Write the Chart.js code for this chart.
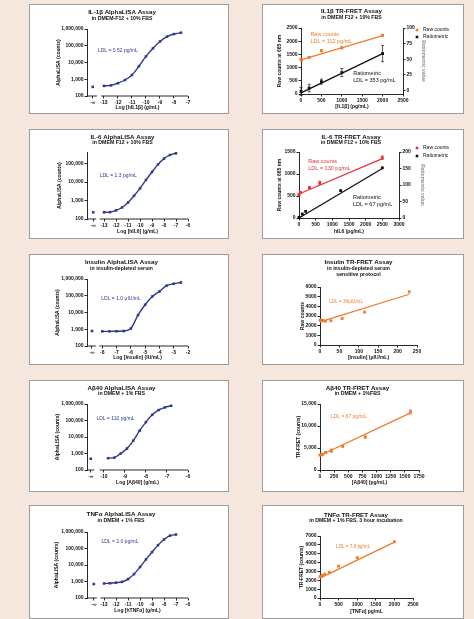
<!DOCTYPE html>
<html lang="en">
<head>
<meta charset="UTF-8">
<title>AlphaLISA and TR-FRET assay comparison</title>
<script src="https://cdn.jsdelivr.net/npm/chart.js"></script>
<style>
  body { margin: 0; width: 474px; height: 619px; background: #f6e7de; position: relative; overflow: hidden; }
  .box { position: absolute; box-sizing: border-box; background: #fff; border: 1px solid #9d9d9d; }
  .box canvas { display: block; }
</style>
</head>
<body>
<script>
// ---- tick labels ----
const logTicks = [100, 1000, 10000, 100000, 1000000];

// ---- IL-1β AlphaLISA ----
const il1bAlphaLog   = [-13, -12.5, -12, -11.5, -11, -10.5, -10, -9.5, -9, -8.5, -8, -7.5];
const il1bAlphaCount = [400, 430, 580, 900, 1800, 6000, 23000, 70000, 180000, 350000, 500000, 600000];
const il1bAlphaBlank = 350;
const il1bAlphaTicks = [-13, -12, -11, -10, -9, -8, -7];

// ---- IL-6 AlphaLISA ----
const il6AlphaLog   = [-13, -12.5, -12, -11.5, -11, -10.5, -10, -9.5, -9, -8.5, -8, -7.5, -7];
const il6AlphaCount = [230, 235, 290, 420, 780, 1800, 4500, 13000, 35000, 90000, 185000, 290000, 360000];
const il6AlphaBlank = 230;
const il6AlphaTicks = [-13, -12, -11, -10, -9, -8, -7, -6];

// ---- Insulin AlphaLISA ----
const insAlphaLog   = [-8, -7.5, -7, -6.5, -6, -5.5, -5, -4.5, -4, -3.5, -3, -2.5];
const insAlphaCount = [750, 750, 760, 780, 1100, 7000, 29000, 90000, 180000, 400000, 520000, 620000];
const insAlphaBlank = 780;
const insAlphaTicks = [-8, -7, -6, -5, -4, -3, -2];

// ---- Aβ40 AlphaLISA ----
const ab40AlphaLog   = [-9.8, -9.5, -9.2, -8.9, -8.6, -8.3, -8.0, -7.7, -7.4, -7.1, -6.8];
const ab40AlphaCount = [520, 560, 1000, 2000, 6000, 24000, 80000, 220000, 430000, 620000, 780000];
const ab40AlphaBlank = 480;
const ab40AlphaTicks = [-10, -9, -8, -7, -6];

// ---- TNFα AlphaLISA ----
const tnfAlphaLog   = [-13, -12.5, -12, -11.5, -11, -10.5, -10, -9.5, -9, -8.5, -8, -7.5, -7];
const tnfAlphaCount = [760, 780, 850, 950, 1400, 2800, 7500, 22000, 60000, 160000, 350000, 600000, 700000];
const tnfAlphaBlank = 700;
const tnfAlphaTicks = [-13, -12, -11, -10, -9, -8, -7, -6];

// ---- IL1β TR-FRET ----
const il1bFretRawX     = [0, 12, 200, 500, 1000, 2000];
const il1bFretRaw      = [1310, 1290, 1390, 1640, 1750, 2225];
const il1bFretRawErr   = [30, 30, 30, 40, 40, 30];
const il1bFretRatioX   = [0, 200, 500, 1000, 2000];
const il1bFretRatio    = [-1.5, 3.7, 14, 28.5, 59];
const il1bFretRatioErr = [6.5, 6, 4, 6.5, 13];
const il1bFitX         = [0, 2000];
const il1bFitRaw       = [1290, 2210];
const il1bFitRatio     = [-4, 59];
const il1bFretXTicks   = [0, 500, 1000, 1500, 2000, 2500];
const il1bFretYTicks   = [0, 500, 1000, 1500, 2000, 2500];
const il1bFretY2Ticks  = [0, 25, 50, 75, 100];

// ---- IL-6 TR-FRET ----
const il6FretRawX    = [0, 40, 312, 625, 2500];
const il6FretRaw     = [530, 580, 690, 800, 1370];
const il6FretRawErr  = [20, 20, 20, 40, 40];
const il6FretRatioX  = [0, 100, 200, 1250, 2500];
const il6FretRatio   = [2, 12, 20, 83, 152];
const il6FitX        = [0, 2500];
const il6FitRaw      = [545, 1350];
const il6FitRatio    = [0, 150];
const il6FretXTicks  = [0, 500, 1000, 1500, 2000, 2500, 3000];
const il6FretYTicks  = [0, 500, 1000, 1500];
const il6FretY2Ticks = [0, 50, 100, 150, 200];

// ---- Insulin TR-FRET ----
const insFretConc   = [0, 1.8, 3.6, 7.2, 14, 28, 57, 115, 230];
const insFretRaw    = [2550, 2600, 2500, 2550, 2470, 2500, 2740, 3400, 5500];
const insFitX       = [0, 230];
const insFitRaw     = [2400, 5250];
const insFretXTicks = [0, 50, 100, 150, 200, 250];
const insFretYTicks = [0, 1000, 2000, 3000, 4000, 5000, 6000];

// ---- Aβ40 TR-FRET ----
const ab40FretConc   = [0, 25, 50, 100, 200, 400, 800, 1600];
const ab40FretSig    = [3400, 3450, 3600, 4000, 4400, 5400, 7500, 13200];
const ab40FretErr    = [150, 150, 150, 200, 400, 200, 300, 500];
const ab40FitX       = [0, 1600];
const ab40FitSig     = [3300, 13000];
const ab40FretXTicks = [0, 250, 500, 750, 1000, 1250, 1500, 1750];
const ab40FretYTicks = [0, 5000, 10000, 15000];

// ---- TNFα TR-FRET ----
const tnfFretConc   = [0, 31, 62, 125, 250, 500, 1000, 2000];
const tnfFretSig    = [2400, 2450, 2550, 2700, 2900, 3600, 4550, 6350];
const tnfFitX       = [0, 2000];
const tnfFitSig     = [2250, 6300];
const tnfFretXTicks = [0, 500, 1000, 1500, 2000, 2500];
const tnfFretYTicks = [0, 1000, 2000, 3000, 4000, 5000, 6000, 7000];

// ---- styling ----
const INK = '#111';
const BLUE = '#2d3a8c';
const ORANGE = '#ef7b2c';
const RED = '#e2343d';
const GREY = '#8e8e8e';
const FONT = '"Liberation Sans", Arial, Helvetica, sans-serif';
const TITLE_SIZE = 6.2;

Chart.defaults.font.family = FONT;
Chart.defaults.color = INK;

const plain = v => String(v);
const commas = v => Number(v).toLocaleString('en-US');

function addCanvas(box) {
  const [left, top, w, h] = box;
  const div = document.createElement('div');
  div.className = 'box';
  div.style.cssText = `left:${left}px;top:${top}px;width:${w}px;height:${h}px;`;
  const cv = document.createElement('canvas');
  cv.width = w - 2;
  cv.height = h - 2;
  cv.style.width = (w - 2) + 'px';
  cv.style.height = (h - 2) + 'px';
  div.appendChild(cv);
  document.body.appendChild(div);
  return cv;
}

function axis(o) {
  return {
    type: o.type || 'linear',
    position: o.position,
    min: o.min,
    max: o.max,
    border: { display: o.border !== false, color: INK, width: 0.9 },
    grid: { display: true, drawOnChartArea: false, drawTicks: true, tickLength: 2.5, color: INK, lineWidth: 0.9 },
    ticks: { font: { size: 5, weight: 'bold' }, color: INK, padding: 1, maxRotation: 0, autoSkip: false, callback: o.format },
    title: { display: !!o.title, text: o.title, color: o.titleColor || INK, font: { size: 5, weight: 'bold' }, padding: o.titlePad || 0 },
    afterBuildTicks: s => { s.ticks = o.ticks.map(v => ({ value: v })); },
    afterFit: s => {
      if (o.width != null) s.width = o.width;
      if (o.height != null) s.height = o.height;
    },
  };
}

function titleOpts(p) {
  return { display: true, text: p.title, color: INK, font: { size: TITLE_SIZE, weight: 'bold', lineHeight: 1 },
           padding: { top: p.titleY - TITLE_SIZE / 2, bottom: 0 } };
}

function subOpts(p) {
  const lh = 5.2;
  const top = Math.max(0, p.subY - p.titleY - TITLE_SIZE / 2 - lh / 2);
  const used = p.titleY + TITLE_SIZE / 2 + top + p.sub.length * lh;
  return { display: true, text: p.sub, color: INK, font: { size: lh, weight: 'bold', lineHeight: 1 },
           padding: { top, bottom: Math.max(0, p.area[1] - used) } };
}

// x axis drawn in two pieces, gap after the "-∞" tick
function brokenAxis(gap) {
  return {
    id: 'brokenAxis',
    afterDraw(chart) {
      const { ctx, chartArea, scales } = chart;
      const y = chartArea.bottom;
      ctx.save();
      ctx.strokeStyle = INK;
      ctx.lineWidth = 0.9;
      ctx.beginPath();
      ctx.moveTo(chartArea.left, y);
      ctx.lineTo(scales.x.getPixelForValue(gap[0]), y);
      ctx.moveTo(scales.x.getPixelForValue(gap[1]), y);
      ctx.lineTo(chartArea.right, y);
      ctx.stroke();
      ctx.restore();
    }
  };
}

// free text placed in data coordinates
function notes(items) {
  return {
    id: 'notes',
    afterDatasetsDraw(chart) {
      const ctx = chart.ctx;
      items.forEach(n => {
        const px = chart.scales.x.getPixelForValue(n.x);
        const py = chart.scales[n.axis || 'y'].getPixelForValue(n.y);
        ctx.save();
        ctx.fillStyle = n.color;
        ctx.font = `${n.size}px ${FONT}`;
        ctx.textBaseline = 'middle';
        n.lines.forEach((t, i) => ctx.fillText(t, px, py + i * n.size * 1.2));
        ctx.restore();
      });
    }
  };
}

const errorBars = {
  id: 'errorBars',
  afterDatasetsDraw(chart) {
    const ctx = chart.ctx;
    chart.data.datasets.forEach((ds, i) => {
      if (!ds.errors) return;
      const meta = chart.getDatasetMeta(i);
      const ys = chart.scales[meta.yAxisID];
      ctx.save();
      ctx.strokeStyle = ds.borderColor;
      ctx.lineWidth = 0.7;
      meta.data.forEach((pt, j) => {
        const e = ds.errors[j];
        if (!e) return;
        const v = ds.data[j].y;
        const y1 = ys.getPixelForValue(v - e), y2 = ys.getPixelForValue(v + e);
        ctx.beginPath();
        ctx.moveTo(pt.x, y1); ctx.lineTo(pt.x, y2);
        ctx.moveTo(pt.x - 1.5, y1); ctx.lineTo(pt.x + 1.5, y1);
        ctx.moveTo(pt.x - 1.5, y2); ctx.lineTo(pt.x + 1.5, y2);
        ctx.stroke();
      });
      ctx.restore();
    });
  }
};

function sideLegend(x, ys) {
  return {
    id: 'sideLegend',
    afterDraw(chart) {
      const ctx = chart.ctx;
      chart.data.datasets.filter(d => d.inLegend).forEach((d, i) => {
        ctx.save();
        ctx.fillStyle = d.pointBackgroundColor;
        ctx.fillRect(x - 1.3, ys[i] - 1.3, 2.6, 2.6);
        ctx.fillStyle = INK;
        ctx.font = `5px ${FONT}`;
        ctx.textBaseline = 'middle';
        ctx.fillText(d.label, x + 6, ys[i]);
        ctx.restore();
      });
    }
  };
}

function alphaPanel(p) {
  const cv = addCanvas(p.box);
  const W = cv.width, H = cv.height;
  const [aL, aT, aR, aB] = p.area;
  const padLeft = p.yTitleX - 3;
  const yMax = p.yMax || 1000000;
  new Chart(cv, {
    type: 'scatter',
    data: {
      datasets: [
        { data: p.log.map((x, i) => ({ x, y: p.counts[i] })), showLine: true, cubicInterpolationMode: 'monotone',
          borderColor: BLUE, borderWidth: 1.4, pointStyle: 'rect', pointRadius: 1.8,
          pointBackgroundColor: BLUE, pointBorderColor: BLUE, pointBorderWidth: 0, clip: false },
        { data: [{ x: p.zeroAt, y: p.blank }], pointStyle: 'rect', pointRadius: 1.8,
          pointBackgroundColor: BLUE, pointBorderColor: BLUE, pointBorderWidth: 0, clip: false },
      ]
    },
    options: {
      responsive: false, animation: false, devicePixelRatio: 1,
      layout: { padding: { left: padLeft, right: W - aR, top: 0, bottom: 0 } },
      plugins: { legend: { display: false }, tooltip: { enabled: false }, title: titleOpts(p), subtitle: subOpts(p) },
      scales: {
        x: axis({ min: p.xMin, max: p.xMax, ticks: [p.zeroAt, ...p.xTicks], border: false,
                  format: v => (v === p.zeroAt ? '-∞' : String(v)),
                  title: p.xTitle, titlePad: { top: 0, bottom: H - p.xTitleY - 3 }, height: H - aB }),
        y: axis({ type: 'logarithmic', min: 100, max: yMax, ticks: logTicks.filter(v => v <= yMax),
                  format: commas, title: 'AlphaLISA (counts)', width: aL - padLeft }),
      }
    },
    plugins: [brokenAxis(p.gap), notes([{ x: p.ldlAt[0], y: p.ldlAt[1], lines: [p.ldl], color: BLUE, size: 5 }])],
  });
}

function fretPanel(p) {
  const cv = addCanvas(p.box);
  const W = cv.width, H = cv.height;
  const [aL, aT, aR, aB] = p.area;
  const padLeft = p.yTitleX - 3;
  const padRight = p.y2 ? W - (p.y2.titleX + 3) : W - aR;
  const datasets = [];
  p.series.forEach(s => {
    datasets.push({ yAxisID: s.axis || 'y', data: s.fitX.map((x, i) => ({ x, y: s.fitY[i] })), showLine: true,
                    pointRadius: 0, borderColor: s.color, borderWidth: 1.3, clip: false });
    datasets.push({ label: s.label, inLegend: !!s.label, yAxisID: s.axis || 'y', errors: s.err,
                    data: s.x.map((x, i) => ({ x, y: s.y[i] })), showLine: false,
                    pointStyle: 'rect', pointRadius: 2, pointBackgroundColor: s.color, pointBorderColor: s.color,
                    pointBorderWidth: 0, borderColor: s.color, clip: false });
  });
  const scales = {
    x: axis({ min: p.x.ticks[0], max: p.x.ticks[p.x.ticks.length - 1], ticks: p.x.ticks, format: plain,
              title: p.xTitle, titlePad: { top: 0, bottom: H - p.xTitleY - 3 }, height: H - aB }),
    y: axis({ position: 'left', min: p.y.min, max: p.y.max, ticks: p.y.ticks, format: p.y.format || plain,
              title: p.yTitle, width: aL - padLeft }),
  };
  if (p.y2) {
    scales.y2 = axis({ position: 'right', min: p.y2.min, max: p.y2.max, ticks: p.y2.ticks, format: plain,
                       title: p.y2.title, titleColor: GREY, width: W - padRight - aR });
  }
  const plugins = [errorBars, notes(p.notes)];
  if (p.legend) plugins.push(sideLegend(p.legend.x, p.legend.ys));
  new Chart(cv, {
    type: 'scatter',
    data: { datasets },
    options: {
      responsive: false, animation: false, devicePixelRatio: 1,
      layout: { padding: { left: padLeft, right: padRight, top: 0, bottom: 0 } },
      plugins: { legend: { display: false }, tooltip: { enabled: false }, title: titleOpts(p), subtitle: subOpts(p) },
      scales,
    },
    plugins,
  });
}

// ---- left column: AlphaLISA ----
alphaPanel({ box: [29, 4, 200, 110], area: [57, 24, 158, 91], titleY: 7, subY: 14, yTitleX: 29, xTitleY: 103,
  title: 'IL-1β AlphaLISA Assay', sub: ['in DMEM-F12 + 10% FBS'], xTitle: 'Log [hIL1β] (g/mL)',
  xMin: -14.21, xMax: -7, zeroAt: -13.8, gap: [-13.5, -13.2], xTicks: il1bAlphaTicks,
  log: il1bAlphaLog, counts: il1bAlphaCount, blank: il1bAlphaBlank,
  ldl: 'LDL = 0.52 pg/mL', ldlAt: [-13.43, 50000] });

alphaPanel({ box: [29, 129, 200, 110], area: [57, 22, 158, 89], titleY: 7, subY: 13, yTitleX: 30, xTitleY: 102,
  title: 'IL-6 AlphaLISA Assay', sub: ['in DMEM F12 + 10% FBS'], xTitle: 'Log [hIL6] (g/mL)',
  xMin: -14.42, xMax: -6, zeroAt: -13.9, gap: [-13.65, -13.35], xTicks: il6AlphaTicks, yMax: 420000,
  log: il6AlphaLog, counts: il6AlphaCount, blank: il6AlphaBlank,
  ldl: 'LDL = 1.3 pg/mL', ldlAt: [-13.36, 23500] });

alphaPanel({ box: [29, 254, 200, 111], area: [57, 24, 158, 91], titleY: 7, subY: 14, yTitleX: 28, xTitleY: 103,
  title: 'Insulin AlphaLISA Assay', sub: ['in insulin-depleted serum'], xTitle: 'Log [Insulin] (IU/mL)',
  xMin: -9.07, xMax: -2, zeroAt: -8.72, gap: [-8.45, -8.2], xTicks: insAlphaTicks,
  log: insAlphaLog, counts: insAlphaCount, blank: insAlphaBlank,
  ldl: 'LDL = 1.0 μIU/mL', ldlAt: [-8.07, 63000] });

alphaPanel({ box: [29, 380, 200, 112], area: [57, 23, 158, 89], titleY: 7, subY: 13, yTitleX: 28, xTitleY: 102,
  title: 'Aβ40 AlphaLISA Assay', sub: ['in DMEM + 1% FBS'], xTitle: 'Log [Aβ40] (g/mL)',
  xMin: -10.8, xMax: -6, zeroAt: -10.62, gap: [-10.45, -10.2], xTicks: ab40AlphaTicks,
  log: ab40AlphaLog, counts: ab40AlphaCount, blank: ab40AlphaBlank,
  ldl: 'LDL = 110 pg/mL', ldlAt: [-10.35, 126000] });

alphaPanel({ box: [29, 505, 200, 114], area: [57, 26, 158, 92], titleY: 8, subY: 15, yTitleX: 27, xTitleY: 105,
  title: 'TNFα AlphaLISA Assay', sub: ['in DMEM + 1% FBS'], xTitle: 'Log [hTNFα] (g/mL)',
  xMin: -14.42, xMax: -6, zeroAt: -13.85, gap: [-13.6, -13.3], xTicks: tnfAlphaTicks,
  log: tnfAlphaLog, counts: tnfAlphaCount, blank: tnfAlphaBlank,
  ldl: 'LDL = 2.0 pg/mL', ldlAt: [-13.22, 245000] });

// ---- right column: TR-FRET ----
fretPanel({ box: [262, 4, 202, 110], area: [38, 23, 140, 89], titleY: 6, subY: 13, yTitleX: 17, xTitleY: 102,
  title: 'IL1β TR-FRET Assay', sub: ['in DMEM F12 + 10% FBS'], xTitle: '[IL1β] (pg/mL)', yTitle: 'Raw counts at 665 nm',
  x: { ticks: il1bFretXTicks }, y: { min: 0, max: 2500, ticks: il1bFretYTicks },
  y2: { min: -5.8, max: 100, ticks: il1bFretY2Ticks, title: 'Ratiometric value', titleX: 160 },
  series: [
    { label: 'Raw counts', color: ORANGE, x: il1bFretRawX, y: il1bFretRaw, err: il1bFretRawErr, fitX: il1bFitX, fitY: il1bFitRaw },
    { label: 'Ratiometric', color: INK, axis: 'y2', x: il1bFretRatioX, y: il1bFretRatio, err: il1bFretRatioErr, fitX: il1bFitX, fitY: il1bFitRatio },
  ],
  legend: { x: 154, ys: [25, 32] },
  notes: [
    { x: 230, y: 2250, lines: ['Raw counts', 'LDL = 112 pg/mL'], color: ORANGE, size: 5.5 },
    { x: 1279, y: 762, lines: ['Ratiometric', 'LDL = 353 pg/mL'], color: INK, size: 5.5 },
  ] });

fretPanel({ box: [262, 129, 202, 110], area: [36, 22, 136, 88], titleY: 7, subY: 13, yTitleX: 17, xTitleY: 102,
  title: 'IL-6 TR-FRET Assay', sub: ['in DMEM F12 + 10% FBS'], xTitle: 'hIL6 (pg/mL)', yTitle: 'Raw counts at 665 nm',
  x: { ticks: il6FretXTicks }, y: { min: 0, max: 1500, ticks: il6FretYTicks },
  y2: { min: 0, max: 200, ticks: il6FretY2Ticks, title: 'Ratiometric value', titleX: 159 },
  series: [
    { label: 'Raw counts', color: RED, x: il6FretRawX, y: il6FretRaw, err: il6FretRawErr, fitX: il6FitX, fitY: il6FitRaw },
    { label: 'Ratiometric', color: INK, axis: 'y2', x: il6FretRatioX, y: il6FretRatio, fitX: il6FitX, fitY: il6FitRatio },
  ],
  legend: { x: 154, ys: [18, 26] },
  notes: [
    { x: 278, y: 1275, lines: ['Raw counts', 'LDL = 130 pg/mL'], color: RED, size: 5.5 },
    { x: 1619, y: 465, lines: ['Ratiometric', 'LDL = 67 pg/mL'], color: INK, size: 5.5 },
  ] });

fretPanel({ box: [262, 254, 202, 111], area: [57, 32, 154, 90], titleY: 7, subY: 14, yTitleX: 40, xTitleY: 103,
  title: 'Insulin TR-FRET Assay', sub: ['in insulin-depleted serum', 'sensitive protocol'],
  xTitle: '[Insulin] (μIU/mL)', yTitle: 'Raw counts',
  x: { ticks: insFretXTicks }, y: { min: 0, max: 6000, ticks: insFretYTicks },
  series: [{ color: ORANGE, x: insFretConc, y: insFretRaw, fitX: insFitX, fitY: insFitRaw }],
  notes: [{ x: 24, y: 4525, lines: ['LDL = 34μIU/mL'], color: ORANGE, size: 4.6 }] });

fretPanel({ box: [262, 380, 202, 112], area: [57, 23, 156, 89], titleY: 7, subY: 13, yTitleX: 36, xTitleY: 102,
  title: 'Aβ40 TR-FRET Assay', sub: ['in DMEM + 1%FBS'], xTitle: '[Aβ40] (pg/mL)', yTitle: 'TR-FRET (counts)',
  x: { ticks: ab40FretXTicks }, y: { min: 0, max: 15000, ticks: ab40FretYTicks, format: commas },
  series: [{ color: ORANGE, x: ab40FretConc, y: ab40FretSig, err: ab40FretErr, fitX: ab40FitX, fitY: ab40FitSig }],
  notes: [{ x: 190, y: 12030, lines: ['LDL = 67 pg/mL'], color: ORANGE, size: 5 }] });

fretPanel({ box: [262, 505, 202, 114], area: [57, 30, 150, 92], titleY: 9, subY: 15, yTitleX: 39, xTitleY: 106,
  title: 'TNFα TR-FRET Assay', sub: ['in DMEM + 1% FBS, 3 hour incubation'], xTitle: '[TNFα] pg/mL', yTitle: 'TR-FRET (counts)',
  x: { ticks: tnfFretXTicks }, y: { min: 0, max: 7000, ticks: tnfFretYTicks },
  series: [{ color: ORANGE, x: tnfFretConc, y: tnfFretSig, fitX: tnfFitX, fitY: tnfFitSig }],
  notes: [{ x: 433, y: 5800, lines: ['LDL = 7.8 pg/mL'], color: ORANGE, size: 4.6 }] });
</script>
</body>
</html>
